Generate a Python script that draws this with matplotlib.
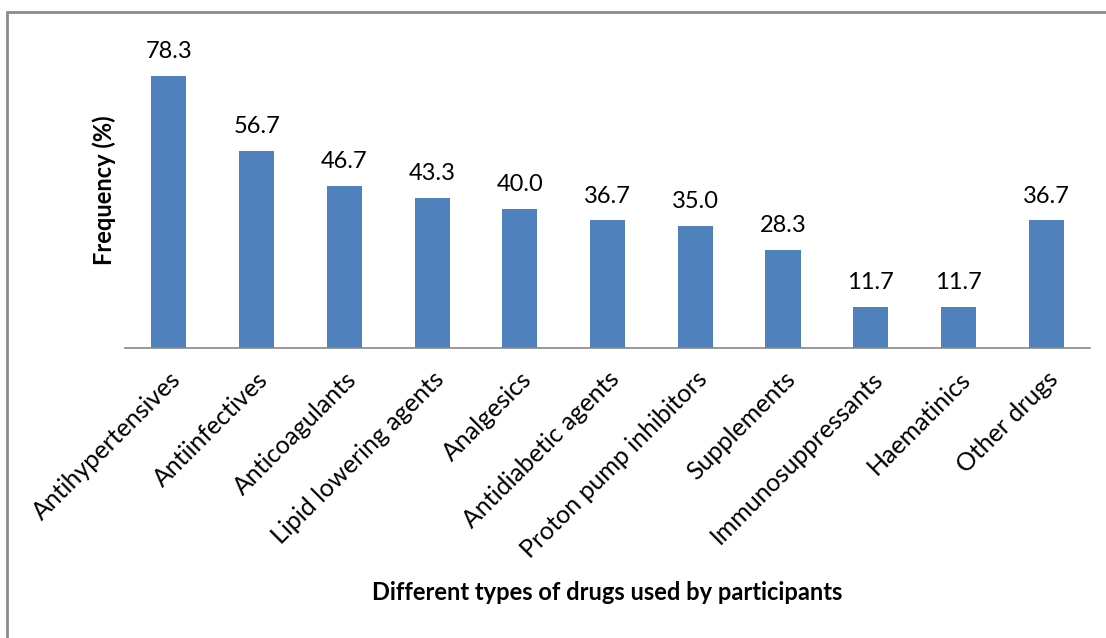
import matplotlib
matplotlib.use('Agg')
import matplotlib.pyplot as plt
from matplotlib.patches import Rectangle

categories = ["Antihypertensives", "Antiinfectives", "Anticoagulants",
              "Lipid lowering agents", "Analgesics", "Antidiabetic agents",
              "Proton pump inhibitors", "Supplements", "Immunosuppressants",
              "Haematinics", "Other drugs"]
frequency = [78.3, 56.7, 46.7, 43.3, 40.0, 36.7, 35.0, 28.3, 11.7, 11.7, 36.7]

plt.rcParams['font.family'] = ['Lato', 'DejaVu Sans']

W, H = 1106, 638
fig = plt.figure(figsize=(W / 100, H / 100), dpi=100)

# outer chart border (runs off the right and bottom edges)
fig.patches.append(Rectangle((7 / W, -0.05), 1.1, 1 - 12 / H + 0.05,
                             transform=fig.transFigure, fill=False,
                             edgecolor='#8c8c8c', linewidth=2))

ax = fig.add_axes([125 / W, 1 - 348 / H, 965 / W, 318 / H])
x = range(len(categories))
ax.bar(x, frequency, width=0.4, color='#4F81BD')
for i, v in zip(x, frequency):
    ax.text(i, v + 4.0, f'{v:.1f}', ha='center', va='bottom', fontsize=17)

ax.set_xlim(-0.5, len(categories) - 0.5)
ax.set_ylim(0, 91.5)
ax.set_xticks(list(x))
ax.set_xticklabels(categories, rotation=45, ha='right', rotation_mode='anchor',
                   fontsize=18)
ax.tick_params(axis='x', length=0, pad=14)
ax.set_yticks([])
for s in ['top', 'right', 'left']:
    ax.spines[s].set_visible(False)
ax.spines['bottom'].set_color('#868686')
ax.spines['bottom'].set_linewidth(1.2)

fig.text(607 / W, 1 - 592 / H, 'Different types of drugs used by participants',
         ha='center', va='center', fontsize=17, fontweight='bold')
fig.text(104 / W, 1 - 190 / H, 'Frequency (%)', ha='center', va='center',
         rotation=90, fontsize=17, fontweight='bold')

fig.savefig('out.png', dpi=100)
